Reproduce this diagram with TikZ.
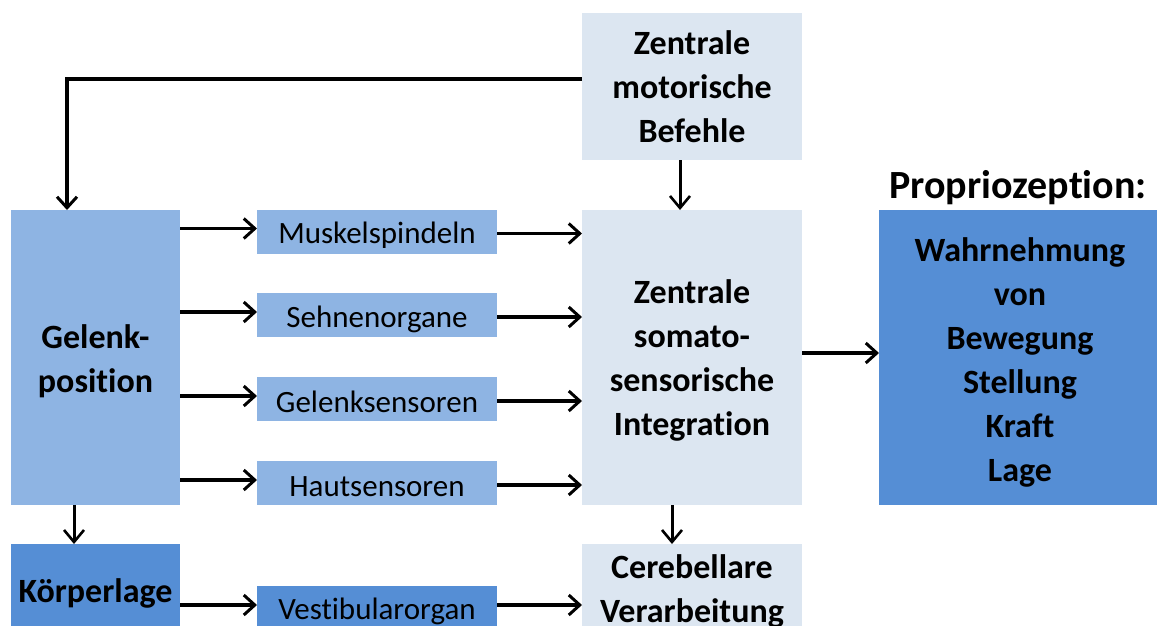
\documentclass[tikz,border=0pt]{standalone}
\usepackage{fontspec}
\setmainfont{Carlito}[Ligatures={NoCommon}]
\usetikzlibrary{arrows.meta}
\definecolor{lightbox}{HTML}{DCE6F1}
\definecolor{midbox}{HTML}{8EB4E3}
\definecolor{darkbox}{HTML}{558ED5}
\begin{document}
\begin{tikzpicture}[x=1pt,y=-1pt,
  box/.style={inner sep=0pt, outer sep=0pt, align=center, text=black},
  bigtxt/.style={font=\fontsize{34}{44}\selectfont\bfseries},
  smalltxt/.style={font=\fontsize{31}{44}\selectfont},
  arr/.style={line width=3.4pt, -{Straight Barb[length=11pt,width=20pt,line width=3pt]}},
  varr/.style={line width=3pt, -{Straight Barb[length=12pt,width=20pt,line width=2.6pt]}}]
\useasboundingbox (0,0) rectangle (1157,625);
\clip (0,0) rectangle (1157,625);
% boxes
\node[box,fill=lightbox,minimum width=220,minimum height=147] (zmb) at (692,86.5) {};
\node[box,bigtxt] (zmbt) at (692,87) {Zentrale\\motorische\\Befehle};
\node[box,fill=midbox,minimum width=169,minimum height=295] (gel) at (95.5,357.5) {};
\node[box,bigtxt] (gelt) at (95.5,361.5) {Gelenk-\\position};
\node[box,fill=lightbox,minimum width=220,minimum height=295] (int) at (692,357.5) {};
\node[box,bigtxt] (intt) at (692,360.5) {Zentrale\\somato-\\sensorische\\Integration};
\node[box,fill=darkbox,minimum width=278,minimum height=295] (prop) at (1018,357.5) {};
\node[box,bigtxt] (propt) at (1020,362.5) {Wahrnehmung\\von\\Bewegung\\Stellung\\Kraft\\Lage};
\node[box,font=\fontsize{40}{44}\selectfont\bfseries,anchor=south] (ptitle) at (1018,205) {Propriozeption:};
\node[box,smalltxt,fill=midbox,minimum width=240,minimum height=44] (ms) at (377,231.5) {};
\node[box,smalltxt,fill=midbox,minimum width=240,minimum height=44] (so) at (377,315) {};
\node[box,smalltxt,fill=midbox,minimum width=240,minimum height=44] (gs) at (377,399) {};
\node[box,smalltxt,fill=midbox,minimum width=240,minimum height=44] (hs) at (377,483) {};
\node[box,smalltxt] (mst) at (377,235.5) {Muskelspindeln};
\node[box,smalltxt] (sot) at (377,319) {Sehnenorgane};
\node[box,smalltxt] (gst) at (377,402) {Gelenksensoren};
\node[box,smalltxt] (hst) at (377,486.5) {Hautsensoren};
\node[box,fill=darkbox,minimum width=169,minimum height=92] (kl) at (95.5,590) {};
\node[box,bigtxt] (klt) at (95.5,593) {Körperlage};
\node[box,fill=darkbox,minimum width=240,minimum height=48] (vo) at (377,610) {};
\node[box,smalltxt] (vot) at (377,611) {Vestibularorgan};
\node[box,fill=lightbox,minimum width=220,minimum height=92] (cer) at (692,590) {};
\node[box,bigtxt] (cert) at (692,591) {Cerebellare\\Verarbeitung};
% connectors
\draw[arr] ([yshift=7.5pt]zmb.west) -| ([xshift=-28.5pt]gel.north);
\draw[varr] ([xshift=-12pt]zmb.south) -- ([xshift=-12pt]int.north);
\foreach \s in {ms,so,gs,hs}{
  \draw[arr] ([yshift=3pt]gel.east |- \s.west) -- ([yshift=3pt]\s.west);
  \draw[arr] ([yshift=-2pt]\s.east) -- ([yshift=-2pt]int.west |- \s.east);
}
\draw[arr] ([yshift=4.5pt]int.east) -- ([yshift=4.5pt]int.east -| prop.west);
\draw[varr] ([xshift=-21.5pt]gel.south) -- ([xshift=-21.5pt]kl.north);
\draw[varr] ([xshift=-20pt]int.south) -- ([xshift=-20pt]cer.north);
\draw[arr] ([yshift=5pt]kl.east |- vo.west) -- ([yshift=5pt]vo.west);
\draw[arr] ([yshift=5pt]vo.east) -- ([yshift=5pt]cer.west |- vo.east);
\end{tikzpicture}
\end{document}
